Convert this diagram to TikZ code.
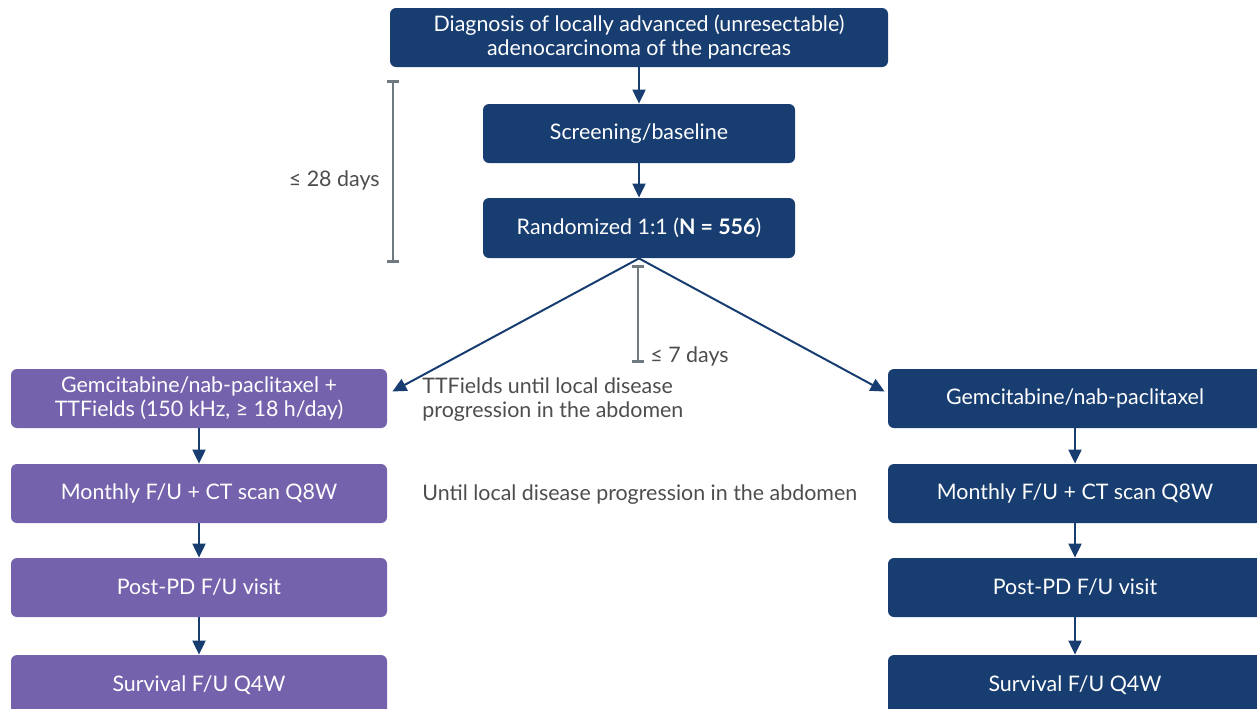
\documentclass[tikz,border=0pt]{standalone}
\usepackage{fontspec}
\setmainfont{Lato}
\usetikzlibrary{arrows.meta}

\definecolor{trialblue}{RGB}{24,61,112}
\definecolor{trialpurple}{RGB}{116,99,172}
\definecolor{bargray}{RGB}{111,121,128}
\definecolor{notegray}{RGB}{77,77,77}

\tikzset{
	box/.style={rounded corners=3pt, text=white, font=\fontsize{10.7}{12}\selectfont, align=center, inner sep=0pt, minimum height=29.5pt},
	bluebox/.style={box, fill=trialblue},
	purplebox/.style={box, fill=trialpurple, minimum width=188pt},
	armbox/.style={bluebox, minimum width=187pt},
	flow/.style={draw=trialblue, line width=1pt, -{Triangle[length=7pt,width=6.5pt]}},
	span/.style={draw=bargray, line width=1.4pt, {Bar[width=6pt]}-{Bar[width=6pt]}},
	note/.style={text=notegray, font=\fontsize{10.7}{12}\selectfont, inner sep=0pt}
}

\begin{document}
\begin{tikzpicture}[x=0.5pt,y=-0.5pt]
	\path[use as bounding box] (0,0) rectangle (1257,708);
	\clip (0,0) rectangle (1257,708);
		\node[bluebox, minimum width=249pt] (diag) at (639,37.5) {Diagnosis of locally advanced (unresectable)\\adenocarcinoma of the pancreas};
		\node[bluebox, minimum width=156pt] (screen) at (639,133.5) {Screening/baseline};
		\node[bluebox, minimum width=156pt, minimum height=30pt] (rand) at (639,228) {Randomized 1:1 (\textbf{N = 556})};
	% arm A
		\node[purplebox] (armA) at (199,398.5) {Gemcitabine/nab-paclitaxel +\\TTFields (150 kHz, ≥ 18 h/day)};
		\node[purplebox] (monA) at (199,493.5) {Monthly F/U + CT scan Q8W};
		\node[purplebox] (postA) at (199,587.5) {Post-PD F/U visit};
		\node[purplebox, minimum height=30pt] (survA) at (199,685) {Survival F/U Q4W};
	% arm B
		\node[armbox] (armB) at (1075,398.5) {Gemcitabine/nab-paclitaxel};
		\node[armbox] (monB) at (1075,493.5) {Monthly F/U + CT scan Q8W};
		\node[armbox] (postB) at (1075,587.5) {Post-PD F/U visit};
		\node[armbox, minimum height=30pt] (survB) at (1075,685) {Survival F/U Q4W};
	% notes
		\node[note, anchor=east] (d28) at (380,180) {≤ 28 days};
		\node[note, anchor=west] (d7) at (650,356) {≤ 7 days};
		\node[note, anchor=west, align=left] (ttnote) at (422,400) {TTFields until local disease\\progression in the abdomen};
		\node[note, anchor=west] (pdnote) at (422,495) {Until local disease progression in the abdomen};
		\coordinate (t28) at (393,80);
		\coordinate (b28) at (393,263);
		\coordinate (t7) at (638,265);
		\coordinate (b7) at (638,363);
		\draw[span] (t28) -- (b28);
		\draw[span] (t7) -- (b7);
		\draw[flow] (diag) -- (screen);
		\draw[flow] (screen) -- (rand);
		\draw[flow] (rand.south) -- ([shift={(5,-7)}]armA.east);
		\draw[flow] (rand.south) -- ([shift={(-3,-7)}]armB.west);
		\draw[flow] (armA) -- (monA);
		\draw[flow] (monA) -- (postA);
		\draw[flow] (postA) -- (survA);
		\draw[flow] (armB) -- (monB);
		\draw[flow] (monB) -- (postB);
		\draw[flow] (postB) -- (survB);
\end{tikzpicture}
\end{document}
